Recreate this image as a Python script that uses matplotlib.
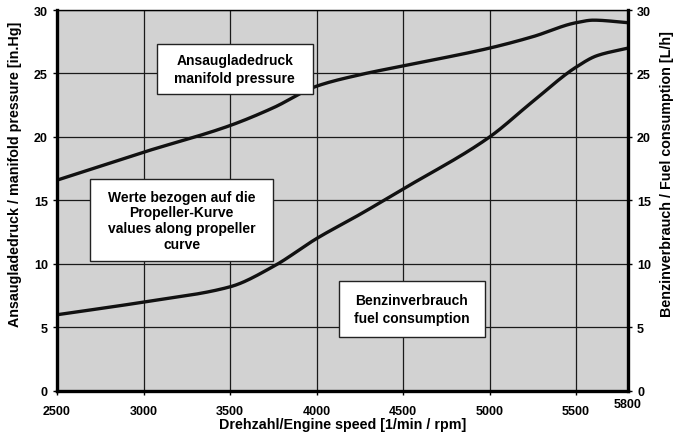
import numpy as np
import matplotlib
matplotlib.use("Agg")
import matplotlib.pyplot as plt
from matplotlib.patches import Rectangle

# Werte entlang der Propellerkurve
rpm_manifold = [2500, 3000, 3500, 3750, 4000, 4250, 4500, 5000, 5250, 5500, 5600, 5800]
manifold_pressure = [16.6, 18.8, 20.9, 22.3, 24.0, 24.9, 25.6, 27.0, 27.9, 29.0, 29.2, 29.0]

rpm_fuel = [2500, 3000, 3500, 3750, 4000, 4250, 4500, 5000, 5250, 5500, 5620, 5800]
fuel_consumption = [6.0, 7.0, 8.2, 9.8, 12.0, 13.9, 15.9, 20.0, 22.8, 25.5, 26.4, 27.0]

x_ticks = [2500, 3000, 3500, 4000, 4500, 5000, 5500]
y_ticks = [0, 5, 10, 15, 20, 25, 30]


def smooth(xs, ys, n=400):
    # monotone kubische Interpolation (Fritsch-Carlson) fuer glatte Linien
    xs = np.asarray(xs, float)
    ys = np.asarray(ys, float)
    h = np.diff(xs)
    d = np.diff(ys) / h
    m = np.zeros_like(ys)
    m[0], m[-1] = d[0], d[-1]
    for i in range(1, len(xs) - 1):
        if d[i - 1] * d[i] > 0:
            w1 = 2 * h[i] + h[i - 1]
            w2 = h[i] + 2 * h[i - 1]
            m[i] = (w1 + w2) / (w1 / d[i - 1] + w2 / d[i])
    xn = np.linspace(xs[0], xs[-1], n)
    idx = np.clip(np.searchsorted(xs, xn) - 1, 0, len(xs) - 2)
    t = (xn - xs[idx]) / h[idx]
    h00 = 2 * t**3 - 3 * t**2 + 1
    h10 = t**3 - 2 * t**2 + t
    h01 = -2 * t**3 + 3 * t**2
    h11 = t**3 - t**2
    yn = (h00 * ys[idx] + h10 * h[idx] * m[idx]
          + h01 * ys[idx + 1] + h11 * h[idx] * m[idx + 1])
    return xn, yn


plt.rcParams["font.family"] = ["Liberation Sans", "DejaVu Sans"]
plt.rcParams["font.weight"] = "bold"

fig = plt.figure(figsize=(6.76, 4.35), dpi=100)
ax = fig.add_axes([0.0843, 0.099, 0.8447, 0.8757])
ax.set_facecolor("#d2d2d2")

ax.set_xlim(2500, 5800)
ax.set_ylim(0, 30)
ax.set_xticks(x_ticks)
ax.set_yticks(y_ticks)
ax.grid(True, color="#1a1a1a", linewidth=0.9)
ax.set_axisbelow(True)

for side in ["left", "bottom", "right"]:
    ax.spines[side].set_linewidth(2.4)
ax.spines["top"].set_linewidth(1.0)

xm, ym = smooth(rpm_manifold, manifold_pressure)
xf, yf = smooth(rpm_fuel, fuel_consumption)
ax.plot(xm, ym, color="#111111", linewidth=2.4)
ax.plot(xf, yf, color="#111111", linewidth=2.4)

ax.tick_params(axis="both", labelsize=9, length=3, width=1)
for lbl in ax.get_xticklabels() + ax.get_yticklabels():
    lbl.set_fontweight("bold")
ax.tick_params(axis="x", pad=7)
ax.text(5800, -0.55, "5800", ha="center", va="top", fontsize=9, fontweight="bold")

ax.set_xlabel("Drehzahl/Engine speed [1/min / rpm]", fontsize=10.3,
              fontweight="bold", labelpad=0)
ax.set_ylabel("Ansaugladedruck / manifold pressure [in.Hg]", fontsize=10.3,
              fontweight="bold")
ax.yaxis.set_label_coords(-0.061, 0.57)

ax2 = ax.twinx()
ax2.set_ylim(0, 30)
ax2.set_yticks(y_ticks)
ax2.tick_params(axis="y", labelsize=9, length=3, width=1)
for lbl in ax2.get_yticklabels():
    lbl.set_fontweight("bold")
ax2.set_ylabel("Benzinverbrauch / Fuel consumption [L/h]", fontsize=10.3,
               fontweight="bold")
ax2.yaxis.set_label_coords(1.056, 0.572)
for s in ax2.spines.values():
    s.set_visible(False)

# Textkaesten: (x0, y0, x1, y1) in Datenkoordinaten
boxes = [
    ((3079, 23.4, 3977, 27.3), "Ansaugladedruck\nmanifold pressure", 1.35),
    ((2690, 10.2, 3750, 16.7),
     "Werte bezogen auf die\nPropeller-Kurve\nvalues along propeller\ncurve", 1.15),
    ((4127, 4.25, 4973, 8.66), "Benzinverbrauch\nfuel consumption", 1.3),
]
for (x0, y0, x1, y1), label, ls in boxes:
    ax.add_patch(Rectangle((x0, y0), x1 - x0, y1 - y0, facecolor="white",
                           edgecolor="#222222", linewidth=1.0, zorder=3))
    ax.text((x0 + x1) / 2, (y0 + y1) / 2, label, ha="center", va="center",
            fontsize=10, fontweight="bold", linespacing=ls, zorder=4)

fig.savefig("out.png", dpi=100)
